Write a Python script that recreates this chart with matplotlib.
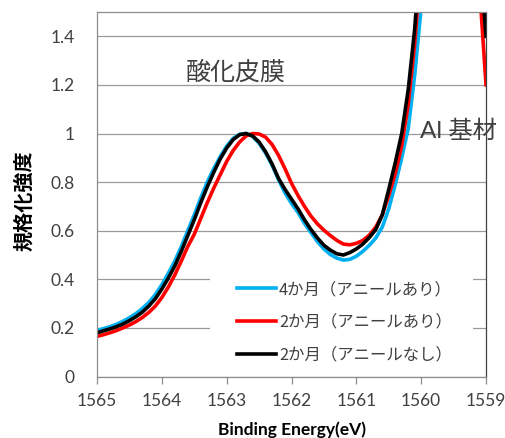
import matplotlib
matplotlib.use("Agg")
import matplotlib.pyplot as plt
from matplotlib.patches import Rectangle

# Binding energy grid (eV), high to low
energy = [1565.0, 1564.9, 1564.8, 1564.7, 1564.6, 1564.5, 1564.4, 1564.3, 1564.2, 1564.1,
          1564.0, 1563.9, 1563.8, 1563.7, 1563.6, 1563.5, 1563.4, 1563.3, 1563.2, 1563.1,
          1563.0, 1562.9, 1562.8, 1562.7, 1562.6, 1562.5, 1562.4, 1562.3, 1562.2, 1562.1,
          1562.0, 1561.9, 1561.8, 1561.7, 1561.6, 1561.5, 1561.4, 1561.3, 1561.2, 1561.1,
          1561.0, 1560.9, 1560.8, 1560.7, 1560.6, 1560.5, 1560.4, 1560.3, 1560.2, 1560.1,
          1560.0, 1559.9, 1559.8, 1559.7, 1559.6, 1559.5, 1559.4, 1559.3, 1559.2, 1559.1,
          1559.0]

# Normalised intensity, 4 months (annealed)
m4_annealed = [0.190, 0.197, 0.205, 0.215, 0.227, 0.242, 0.259, 0.280, 0.305, 0.337,
               0.378, 0.425, 0.475, 0.535, 0.600, 0.665, 0.735, 0.800, 0.855, 0.905,
               0.948, 0.980, 0.997, 1.000, 0.988, 0.960, 0.920, 0.870, 0.810, 0.755,
               0.712, 0.675, 0.630, 0.592, 0.555, 0.525, 0.502, 0.487, 0.479, 0.482,
               0.495, 0.515, 0.540, 0.570, 0.615, 0.690, 0.790, 0.900, 1.020, 1.240,
               1.520, 1.950, 2.550, 3.100, 3.500, 3.550, 3.250, 2.800, 2.300, 1.900,
               1.600]

# Normalised intensity, 2 months (annealed)
m2_annealed = [0.165, 0.172, 0.180, 0.189, 0.200, 0.212, 0.226, 0.243, 0.264, 0.290,
               0.325, 0.368, 0.418, 0.475, 0.535, 0.585, 0.650, 0.715, 0.775, 0.830,
               0.885, 0.930, 0.965, 0.990, 1.000, 0.998, 0.985, 0.955, 0.910, 0.855,
               0.795, 0.745, 0.700, 0.660, 0.628, 0.602, 0.580, 0.560, 0.545, 0.542,
               0.548, 0.560, 0.582, 0.615, 0.665, 0.745, 0.835, 0.950, 1.120, 1.370,
               1.700, 2.200, 2.800, 3.300, 3.550, 3.450, 3.050, 2.550, 2.050, 1.600,
               1.200]

# Normalised intensity, 2 months (not annealed)
m2_plain = [0.180, 0.188, 0.196, 0.205, 0.216, 0.230, 0.246, 0.265, 0.290, 0.320,
            0.360, 0.405, 0.455, 0.515, 0.580, 0.645, 0.715, 0.780, 0.840, 0.895,
            0.940, 0.975, 0.995, 1.000, 0.990, 0.965, 0.925, 0.875, 0.815, 0.770,
            0.730, 0.690, 0.645, 0.605, 0.570, 0.540, 0.520, 0.505, 0.500, 0.510,
            0.525, 0.545, 0.572, 0.605, 0.665, 0.770, 0.880, 1.000, 1.180, 1.430,
            1.800, 2.300, 2.900, 3.400, 3.650, 3.550, 3.150, 2.650, 2.150, 1.750,
            1.400]

series_labels = ["4か月（アニールあり）", "2か月（アニールあり）", "2か月（アニールなし）"]
series_colors = ["#00B0F0", "#FF0000", "#000000"]

x_ticks = [1565, 1564, 1563, 1562, 1561, 1560, 1559]
y_ticks = [0, 0.2, 0.4, 0.6, 0.8, 1.0, 1.2, 1.4]
y_tick_labels = ["0", "0.2", "0.4", "0.6", "0.8", "1", "1.2", "1.4"]

latin = ["Lato", "DejaVu Sans"]
cjk = ["Noto Sans CJK JP", "DejaVu Sans"]
mixed = ["Lato", "Noto Sans CJK JP", "DejaVu Sans"]
text_grey = "#404040"
line_grey = "#8c8c8c"

fig = plt.figure(figsize=(5.06, 4.38), dpi=100)
ax = fig.add_axes([0.1917, 0.1404, 0.7688, 0.8322])

lines = []
for vals, col, lab in zip([m4_annealed, m2_annealed, m2_plain], series_colors, series_labels):
    ln, = ax.plot(energy, vals, color=col, lw=2.6, label=lab, solid_joinstyle="round", zorder=2)
    lines.append(ln)

ax.set_xlim(1565, 1559)
ax.set_ylim(0, 1.5)

ax.set_xticks(x_ticks)
ax.set_xticklabels([str(t) for t in x_ticks], fontfamily=latin, fontsize=12.5, color=text_grey)
ax.set_yticks(y_ticks)
ax.set_yticklabels(y_tick_labels, fontfamily=latin, fontsize=12.5, color=text_grey)
ax.tick_params(axis="x", direction="out", length=5, width=0.9, color=line_grey, pad=7)
ax.tick_params(axis="y", length=0, pad=16)

ax.set_axisbelow(True)
ax.yaxis.grid(True, color="#9a9a9a", lw=0.9)
ax.xaxis.grid(False)
for side in ["left", "bottom", "top", "right"]:
    ax.spines[side].set_color(line_grey)
    ax.spines[side].set_linewidth(0.9)
ax.spines["right"].set_color("#404040")

# white panel behind the legend entries
ax.add_patch(Rectangle((0.29, 0.06), 0.677, 0.25, transform=ax.transAxes,
                       facecolor="white", edgecolor="none", zorder=1))

leg = ax.legend(handles=lines, loc="upper left", bbox_to_anchor=(0.36, 0.262),
                frameon=False, borderpad=0, borderaxespad=0, handlelength=2.35,
                handletextpad=0.2, labelspacing=0.97,
                prop={"family": cjk, "size": 11.8})
for t in leg.get_texts():
    t.set_color(text_grey)

ax.text(1562.86, 1.25, "酸化皮膜", fontfamily=cjk, fontsize=18, color=text_grey,
        ha="center", va="center")
ax.text(1559.43, 1.01, "Al 基材", fontfamily=mixed, fontsize=17.5, color=text_grey,
        ha="center", va="center", clip_on=False)

ax.set_xlabel("Binding Energy(eV)", fontfamily=latin, fontsize=12.5, fontweight="bold",
              labelpad=9)
fig.text(0.046, 0.541, "規格化強度", rotation=90, fontfamily=cjk, fontsize=14.5,
         fontweight="bold", ha="center", va="center")

fig.savefig("out.png", dpi=100)
